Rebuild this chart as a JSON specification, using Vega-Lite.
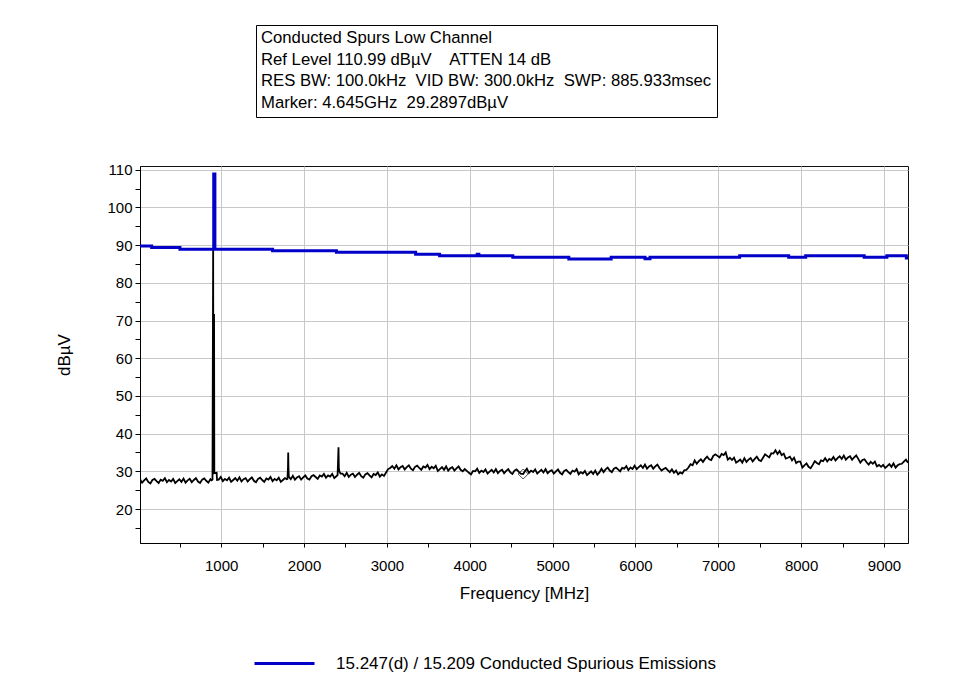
{
  "$schema": "https://vega.github.io/schema/vega-lite/v6.json",
  "width": 768,
  "height": 377,
  "autosize": "none",
  "padding": {"left": 140, "top": 166, "right": 46, "bottom": 140},
  "background": "white",
  "config": {
    "font": "Liberation Sans",
    "view": {"stroke": "#101010", "strokeWidth": 1},
    "axis": {
      "grid": true,
      "gridColor": "#c8c8c8",
      "gridWidth": 1,
      "domainColor": "black",
      "tickColor": "black",
      "tickOpacity": 1,
      "labelColor": "black",
      "labelFontSize": 15,
      "labelOverlap": false,
      "titleFontSize": 17,
      "titleFontWeight": "normal",
      "titleColor": "black"
    }
  },
  "datasets": {
    "limit": [
      {"f": 20, "v": 89.8}, {"f": 161, "v": 89.4}, {"f": 502, "v": 88.9}, {"f": 910, "v": 108.9}, {"f": 924, "v": 88.9},
      {"f": 1620, "v": 88.5}, {"f": 2391, "v": 88.1}, {"f": 3347, "v": 87.6}, {"f": 3636, "v": 87.2}, {"f": 4090, "v": 87.6},
      {"f": 4110, "v": 87.2}, {"f": 4520, "v": 86.8}, {"f": 5196, "v": 86.3}, {"f": 5707, "v": 86.8}, {"f": 6116, "v": 86.4},
      {"f": 6176, "v": 86.8}, {"f": 7258, "v": 87.2}, {"f": 7850, "v": 86.8}, {"f": 8055, "v": 87.2}, {"f": 8761, "v": 86.8},
      {"f": 9035, "v": 87.2}, {"f": 9270, "v": 86.6}, {"f": 9290, "v": 86.6}
    ],
    "noise": [
      {"f": 20, "v": 27.9}, {"f": 45, "v": 27.0}, {"f": 70, "v": 27.6}, {"f": 95, "v": 28.1}, {"f": 120, "v": 27.2},
      {"f": 145, "v": 26.8}, {"f": 170, "v": 27.7}, {"f": 195, "v": 28.0}, {"f": 220, "v": 27.4}, {"f": 245, "v": 26.9},
      {"f": 270, "v": 27.8}, {"f": 295, "v": 27.5}, {"f": 320, "v": 28.2}, {"f": 345, "v": 27.1}, {"f": 370, "v": 27.7},
      {"f": 395, "v": 27.3}, {"f": 420, "v": 28.0}, {"f": 445, "v": 26.9}, {"f": 470, "v": 27.4}, {"f": 495, "v": 27.9},
      {"f": 520, "v": 27.2}, {"f": 545, "v": 28.1}, {"f": 570, "v": 27.0}, {"f": 595, "v": 27.6}, {"f": 620, "v": 28.0},
      {"f": 645, "v": 27.1}, {"f": 670, "v": 27.7}, {"f": 695, "v": 28.2}, {"f": 720, "v": 27.3}, {"f": 745, "v": 26.9},
      {"f": 770, "v": 27.8}, {"f": 795, "v": 28.1}, {"f": 820, "v": 27.5}, {"f": 845, "v": 27.0}, {"f": 870, "v": 27.9},
      {"f": 885, "v": 27.6}, {"f": 895, "v": 27.8}, {"f": 903, "v": 88.9}, {"f": 906, "v": 30.0}, {"f": 909, "v": 71.5},
      {"f": 914, "v": 71.5}, {"f": 917, "v": 29.5}, {"f": 945, "v": 29.6}, {"f": 950, "v": 27.7},
      {"f": 970, "v": 27.8}, {"f": 995, "v": 28.5}, {"f": 1020, "v": 27.4}, {"f": 1045, "v": 28.0}, {"f": 1070, "v": 27.6},
      {"f": 1095, "v": 28.3}, {"f": 1120, "v": 27.2}, {"f": 1145, "v": 27.7}, {"f": 1170, "v": 28.2}, {"f": 1195, "v": 27.5},
      {"f": 1220, "v": 28.4}, {"f": 1245, "v": 27.3}, {"f": 1270, "v": 27.9}, {"f": 1295, "v": 28.2}, {"f": 1320, "v": 27.3},
      {"f": 1345, "v": 27.9}, {"f": 1370, "v": 28.4}, {"f": 1395, "v": 27.5}, {"f": 1420, "v": 27.1}, {"f": 1445, "v": 28.0},
      {"f": 1470, "v": 28.3}, {"f": 1495, "v": 27.7}, {"f": 1520, "v": 27.2}, {"f": 1545, "v": 28.1}, {"f": 1570, "v": 27.8},
      {"f": 1595, "v": 28.5}, {"f": 1620, "v": 27.4}, {"f": 1645, "v": 28.0}, {"f": 1670, "v": 27.6}, {"f": 1695, "v": 28.3},
      {"f": 1720, "v": 27.2}, {"f": 1745, "v": 27.7}, {"f": 1770, "v": 28.2}, {"f": 1790, "v": 27.9}, {"f": 1800, "v": 28.0},
      {"f": 1806, "v": 31.0}, {"f": 1809, "v": 35.0}, {"f": 1812, "v": 31.0}, {"f": 1816, "v": 28.6},
      {"f": 1840, "v": 27.9}, {"f": 1865, "v": 28.8}, {"f": 1890, "v": 27.8}, {"f": 1915, "v": 28.4}, {"f": 1940, "v": 28.7},
      {"f": 1965, "v": 27.8}, {"f": 1990, "v": 28.4}, {"f": 2015, "v": 28.9}, {"f": 2040, "v": 28.1}, {"f": 2065, "v": 27.8},
      {"f": 2090, "v": 28.7}, {"f": 2115, "v": 29.0}, {"f": 2140, "v": 28.5}, {"f": 2165, "v": 28.0}, {"f": 2190, "v": 28.9},
      {"f": 2215, "v": 28.6}, {"f": 2240, "v": 29.3}, {"f": 2265, "v": 28.3}, {"f": 2290, "v": 28.9}, {"f": 2315, "v": 28.6},
      {"f": 2340, "v": 29.3}, {"f": 2365, "v": 28.2}, {"f": 2390, "v": 28.7}, {"f": 2405, "v": 29.0}, {"f": 2416, "v": 36.4},
      {"f": 2420, "v": 31.0}, {"f": 2426, "v": 30.0}, {"f": 2440, "v": 29.4},
      {"f": 2465, "v": 29.4}, {"f": 2490, "v": 28.7}, {"f": 2515, "v": 29.6}, {"f": 2540, "v": 28.5}, {"f": 2565, "v": 29.1},
      {"f": 2590, "v": 29.4}, {"f": 2615, "v": 28.5}, {"f": 2640, "v": 29.1}, {"f": 2665, "v": 29.6}, {"f": 2690, "v": 28.7},
      {"f": 2715, "v": 28.3}, {"f": 2740, "v": 29.2}, {"f": 2765, "v": 29.5}, {"f": 2790, "v": 28.9}, {"f": 2815, "v": 28.4},
      {"f": 2840, "v": 29.3}, {"f": 2865, "v": 29.0}, {"f": 2890, "v": 29.7}, {"f": 2915, "v": 28.6}, {"f": 2940, "v": 29.2},
      {"f": 2965, "v": 28.8}, {"f": 2990, "v": 29.7}, {"f": 3015, "v": 30.6}, {"f": 3040, "v": 30.9}, {"f": 3065, "v": 31.4},
      {"f": 3090, "v": 30.7}, {"f": 3115, "v": 31.6}, {"f": 3140, "v": 30.5}, {"f": 3165, "v": 31.1}, {"f": 3190, "v": 31.4},
      {"f": 3215, "v": 30.5}, {"f": 3240, "v": 31.1}, {"f": 3265, "v": 31.6}, {"f": 3290, "v": 30.7}, {"f": 3315, "v": 30.3},
      {"f": 3340, "v": 31.2}, {"f": 3365, "v": 31.5}, {"f": 3390, "v": 30.9}, {"f": 3415, "v": 30.4}, {"f": 3440, "v": 31.3},
      {"f": 3465, "v": 31.0}, {"f": 3490, "v": 31.7}, {"f": 3515, "v": 30.6}, {"f": 3540, "v": 31.2}, {"f": 3565, "v": 30.8},
      {"f": 3590, "v": 31.5}, {"f": 3615, "v": 30.1}, {"f": 3640, "v": 30.6}, {"f": 3665, "v": 31.1}, {"f": 3690, "v": 30.4},
      {"f": 3715, "v": 31.3}, {"f": 3740, "v": 30.2}, {"f": 3765, "v": 30.8}, {"f": 3790, "v": 31.1}, {"f": 3815, "v": 30.2},
      {"f": 3840, "v": 30.8}, {"f": 3865, "v": 31.3}, {"f": 3890, "v": 30.4}, {"f": 3915, "v": 30.0}, {"f": 3940, "v": 30.6},
      {"f": 3965, "v": 30.1}, {"f": 3990, "v": 29.6}, {"f": 4015, "v": 29.2}, {"f": 4040, "v": 30.1}, {"f": 4065, "v": 30.0},
      {"f": 4090, "v": 30.7}, {"f": 4115, "v": 29.6}, {"f": 4140, "v": 30.2}, {"f": 4165, "v": 29.8}, {"f": 4190, "v": 30.5},
      {"f": 4215, "v": 29.4}, {"f": 4240, "v": 29.9}, {"f": 4265, "v": 30.4}, {"f": 4290, "v": 29.7}, {"f": 4315, "v": 30.6},
      {"f": 4340, "v": 29.5}, {"f": 4365, "v": 30.1}, {"f": 4390, "v": 30.4}, {"f": 4415, "v": 29.5}, {"f": 4440, "v": 30.1},
      {"f": 4465, "v": 30.6}, {"f": 4490, "v": 29.7}, {"f": 4515, "v": 29.3}, {"f": 4540, "v": 30.2}, {"f": 4565, "v": 30.5},
      {"f": 4590, "v": 29.9}, {"f": 4615, "v": 29.4}, {"f": 4645, "v": 29.3}, {"f": 4665, "v": 30.0}, {"f": 4690, "v": 30.7},
      {"f": 4715, "v": 29.6}, {"f": 4740, "v": 30.2}, {"f": 4765, "v": 29.8}, {"f": 4790, "v": 30.5}, {"f": 4815, "v": 29.4},
      {"f": 4840, "v": 29.9}, {"f": 4865, "v": 30.4}, {"f": 4890, "v": 29.7}, {"f": 4915, "v": 30.6}, {"f": 4940, "v": 29.5},
      {"f": 4965, "v": 30.0}, {"f": 4990, "v": 30.3}, {"f": 5015, "v": 29.4}, {"f": 5040, "v": 30.0}, {"f": 5065, "v": 30.5},
      {"f": 5090, "v": 29.6}, {"f": 5115, "v": 29.2}, {"f": 5140, "v": 30.1}, {"f": 5165, "v": 30.4}, {"f": 5190, "v": 29.8},
      {"f": 5215, "v": 29.3}, {"f": 5240, "v": 30.2}, {"f": 5265, "v": 29.9}, {"f": 5290, "v": 30.6}, {"f": 5315, "v": 29.2},
      {"f": 5340, "v": 29.8}, {"f": 5365, "v": 29.4}, {"f": 5390, "v": 30.1}, {"f": 5415, "v": 29.0}, {"f": 5440, "v": 29.5},
      {"f": 5465, "v": 30.0}, {"f": 5490, "v": 29.3}, {"f": 5515, "v": 30.2}, {"f": 5540, "v": 29.1}, {"f": 5565, "v": 29.7},
      {"f": 5590, "v": 30.7}, {"f": 5615, "v": 29.8}, {"f": 5640, "v": 30.5}, {"f": 5665, "v": 31.0}, {"f": 5690, "v": 30.2},
      {"f": 5715, "v": 29.8}, {"f": 5740, "v": 30.7}, {"f": 5765, "v": 31.0}, {"f": 5790, "v": 30.5}, {"f": 5815, "v": 30.0},
      {"f": 5840, "v": 30.9}, {"f": 5865, "v": 30.7}, {"f": 5890, "v": 31.4}, {"f": 5915, "v": 30.3}, {"f": 5940, "v": 31.0},
      {"f": 5965, "v": 30.6}, {"f": 5990, "v": 31.5}, {"f": 6015, "v": 30.6}, {"f": 6040, "v": 31.1}, {"f": 6065, "v": 31.6},
      {"f": 6090, "v": 30.9}, {"f": 6115, "v": 31.8}, {"f": 6140, "v": 30.7}, {"f": 6165, "v": 31.3}, {"f": 6190, "v": 31.6},
      {"f": 6215, "v": 30.7}, {"f": 6240, "v": 31.3}, {"f": 6265, "v": 31.8}, {"f": 6290, "v": 30.9}, {"f": 6315, "v": 30.2},
      {"f": 6340, "v": 30.6}, {"f": 6365, "v": 30.9}, {"f": 6390, "v": 30.3}, {"f": 6415, "v": 29.8}, {"f": 6440, "v": 30.5},
      {"f": 6465, "v": 29.6}, {"f": 6490, "v": 30.2}, {"f": 6515, "v": 29.2}, {"f": 6540, "v": 29.7}, {"f": 6565, "v": 29.4},
      {"f": 6590, "v": 30.3}, {"f": 6615, "v": 30.4}, {"f": 6640, "v": 31.0}, {"f": 6665, "v": 31.9}, {"f": 6690, "v": 31.6},
      {"f": 6715, "v": 32.9}, {"f": 6740, "v": 32.0}, {"f": 6765, "v": 32.7}, {"f": 6790, "v": 33.2}, {"f": 6815, "v": 32.5},
      {"f": 6840, "v": 33.3}, {"f": 6865, "v": 33.9}, {"f": 6890, "v": 33.2}, {"f": 6915, "v": 33.0}, {"f": 6940, "v": 34.1},
      {"f": 6965, "v": 34.5}, {"f": 6990, "v": 34.1}, {"f": 7015, "v": 33.7}, {"f": 7040, "v": 34.6}, {"f": 7065, "v": 34.3},
      {"f": 7090, "v": 35.0}, {"f": 7115, "v": 33.1}, {"f": 7140, "v": 33.6}, {"f": 7165, "v": 33.0}, {"f": 7190, "v": 33.6},
      {"f": 7215, "v": 32.3}, {"f": 7240, "v": 32.7}, {"f": 7265, "v": 33.1}, {"f": 7290, "v": 32.3}, {"f": 7315, "v": 33.5},
      {"f": 7340, "v": 32.5}, {"f": 7365, "v": 33.1}, {"f": 7390, "v": 33.5}, {"f": 7415, "v": 32.6}, {"f": 7440, "v": 33.3},
      {"f": 7465, "v": 33.9}, {"f": 7490, "v": 33.0}, {"f": 7515, "v": 32.7}, {"f": 7540, "v": 33.6}, {"f": 7565, "v": 34.5},
      {"f": 7590, "v": 34.1}, {"f": 7615, "v": 33.7}, {"f": 7640, "v": 34.8}, {"f": 7665, "v": 34.7}, {"f": 7690, "v": 35.6},
      {"f": 7715, "v": 34.6}, {"f": 7740, "v": 35.4}, {"f": 7765, "v": 34.3}, {"f": 7790, "v": 34.7}, {"f": 7815, "v": 33.4},
      {"f": 7840, "v": 33.6}, {"f": 7865, "v": 33.9}, {"f": 7890, "v": 32.9}, {"f": 7915, "v": 33.6}, {"f": 7940, "v": 32.2},
      {"f": 7965, "v": 32.6}, {"f": 7990, "v": 32.6}, {"f": 8015, "v": 31.0}, {"f": 8040, "v": 31.6}, {"f": 8065, "v": 32.1},
      {"f": 8090, "v": 31.2}, {"f": 8115, "v": 30.8}, {"f": 8140, "v": 31.7}, {"f": 8165, "v": 32.7}, {"f": 8190, "v": 32.2},
      {"f": 8215, "v": 31.9}, {"f": 8240, "v": 32.9}, {"f": 8265, "v": 32.7}, {"f": 8290, "v": 33.5}, {"f": 8315, "v": 32.6},
      {"f": 8340, "v": 33.3}, {"f": 8365, "v": 33.0}, {"f": 8390, "v": 33.8}, {"f": 8415, "v": 32.9}, {"f": 8440, "v": 33.5},
      {"f": 8465, "v": 34.0}, {"f": 8490, "v": 33.3}, {"f": 8515, "v": 34.2}, {"f": 8540, "v": 33.1}, {"f": 8565, "v": 33.7},
      {"f": 8590, "v": 34.0}, {"f": 8615, "v": 33.1}, {"f": 8640, "v": 33.7}, {"f": 8665, "v": 34.2}, {"f": 8690, "v": 33.3},
      {"f": 8715, "v": 32.3}, {"f": 8740, "v": 33.0}, {"f": 8765, "v": 33.2}, {"f": 8790, "v": 32.4}, {"f": 8815, "v": 31.8},
      {"f": 8840, "v": 32.5}, {"f": 8865, "v": 32.0}, {"f": 8890, "v": 32.6}, {"f": 8915, "v": 31.3}, {"f": 8940, "v": 31.7},
      {"f": 8965, "v": 31.2}, {"f": 8990, "v": 31.7}, {"f": 9015, "v": 30.9}, {"f": 9040, "v": 31.4}, {"f": 9065, "v": 31.9},
      {"f": 9090, "v": 31.2}, {"f": 9115, "v": 32.1}, {"f": 9140, "v": 31.0}, {"f": 9165, "v": 31.6}, {"f": 9190, "v": 31.9},
      {"f": 9215, "v": 32.0}, {"f": 9240, "v": 32.6}, {"f": 9265, "v": 33.1}, {"f": 9290, "v": 32.3}
    ],
    "marker": [{"f": 4645, "v": 29.29}]
  },
  "encoding": {
    "x": {
      "field": "f", "type": "quantitative", "title": "Frequency [MHz]",
      "scale": {"domain": [20, 9290], "nice": false, "zero": false},
      "axis": {
        "values": [500, 1000, 1500, 2000, 2500, 3000, 3500, 4000, 4500, 5000, 5500, 6000, 6500, 7000, 7500, 8000, 8500, 9000],
        "format": "d",
        "labelExpr": "datum.value % 1000 == 0 ? datum.label : ''",
        "gridOpacity": {"condition": {"test": "datum.value % 1000 == 0", "value": 1}, "value": 0},
        "tickSize": 4,
        "labelPadding": 11,
        "titlePadding": 12
      }
    },
    "y": {
      "field": "v", "type": "quantitative", "title": "dBµV",
      "scale": {"domain": [10.99, 110.99], "nice": false, "zero": false},
      "axis": {
        "values": [15, 20, 25, 30, 35, 40, 45, 50, 55, 60, 65, 70, 75, 80, 85, 90, 95, 100, 105, 110],
        "labelExpr": "datum.value % 10 == 0 ? datum.label : ''",
        "gridOpacity": {"condition": {"test": "datum.value % 10 == 0", "value": 1}, "value": 0},
        "tickSize": 5,
        "labelPadding": 3,
        "titlePadding": 33
      }
    }
  },
  "layer": [
    {
      "data": {"name": "noise"},
      "mark": {"type": "line", "color": "black", "strokeWidth": 1.8, "clip": true}
    },
    {
      "data": {"name": "limit"},
      "mark": {"type": "line", "interpolate": "step-after", "strokeWidth": 3, "clip": true},
      "encoding": {
        "color": {
          "datum": "15.247(d) / 15.209 Conducted Spurious Emissions",
          "scale": {"range": ["#0000c8"]},
          "legend": {
            "orient": "none", "legendX": 113, "legendY": 466, "title": null,
            "symbolType": "stroke", "symbolSize": 3600, "symbolStrokeWidth": 3, "symbolStrokeColor": "#14148f",
            "labelFontSize": 17, "labelColor": "black", "labelOffset": 20, "padding": 0, "labelLimit": 600
          }
        }
      }
    },
    {
      "data": {"name": "marker"},
      "mark": {"type": "point", "filled": false, "stroke": "black", "strokeWidth": 1, "size": 100},
      "encoding": {
        "shape": {
          "datum": "Marker",
          "scale": {"range": ["diamond"]},
          "legend": {
            "orient": "none", "legendX": 116, "legendY": -141, "values": [],
            "title": ["Conducted Spurs Low Channel", "Ref Level 110.99 dBµV\u00a0\u00a0\u00a0 ATTEN 14 dB", "RES BW: 100.0kHz\u00a0 VID BW: 300.0kHz\u00a0 SWP: 885.933msec", "Marker: 4.645GHz\u00a0 29.2897dBµV"],
            "titleFontSize": 16.7, "titleFontWeight": "normal", "titleColor": "black", "titleLineHeight": 21.5,
            "titleBaseline": "top", "titlePadding": 0, "titleLimit": 800,
            "strokeColor": "black", "padding": 5
          }
        }
      }
    }
  ]
}
